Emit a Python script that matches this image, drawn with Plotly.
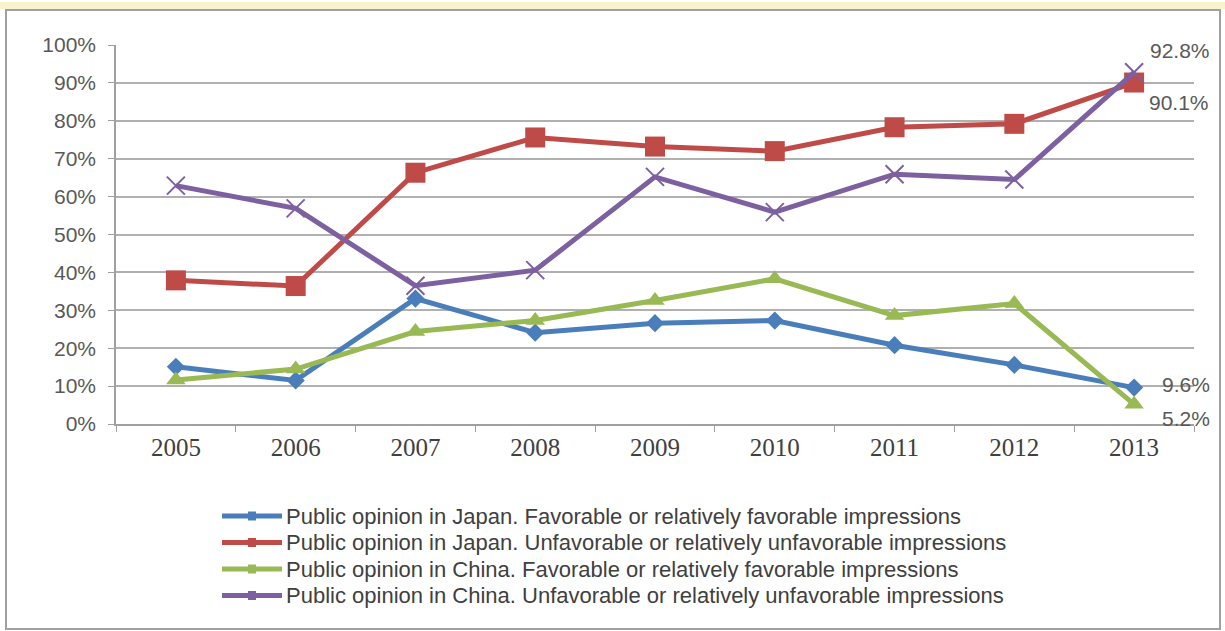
import plotly.graph_objects as go

years = ["2005", "2006", "2007", "2008", "2009", "2010", "2011", "2012", "2013"]
japan_fav = [15.1, 11.5, 33.1, 24.1, 26.6, 27.3, 20.8, 15.6, 9.6]
japan_unfav = [37.9, 36.4, 66.3, 75.6, 73.2, 72.0, 78.3, 79.2, 90.1]
china_fav = [11.6, 14.5, 24.4, 27.3, 32.6, 38.3, 28.6, 31.8, 5.2]
china_unfav = [62.9, 56.9, 36.5, 40.6, 65.2, 55.9, 65.9, 64.5, 92.8]

names = [
    "Public opinion in Japan. Favorable or relatively favorable impressions",
    "Public opinion in Japan. Unfavorable or relatively unfavorable impressions",
    "Public opinion in China. Favorable or relatively favorable impressions",
    "Public opinion in China. Unfavorable or relatively unfavorable impressions",
]
colors = ["#4a7ebb", "#be4b48", "#98b954", "#7d60a0"]
symbols = ["diamond", "square", "triangle-up", "x-thin"]
sizes = [14, 20, 17, 18]
series = [japan_fav, japan_unfav, china_fav, china_unfav]

W, H = 1225, 631
ML, MR, MT, MB = 116, 31, 45, 207
PW, PH = W - ML - MR, H - MT - MB


def px_x(x):
    return (x - ML) / PW


def px_y(y):
    return (H - MB - y) / PH


fig = go.Figure()
for name, vals, c, s, sz in zip(names, series, colors, symbols, sizes):
    marker = dict(symbol=s, size=sz, color=c)
    if s == "x-thin":
        marker["line"] = dict(color=c, width=2)
    fig.add_trace(go.Scatter(
        x=years, y=vals, name=name, mode="lines+markers",
        line=dict(color=c, width=5), marker=marker, showlegend=False,
    ))

# value labels at the last year
label_font = dict(family="Arial, Liberation Sans, sans-serif", size=21, color="#595959")
last_x = (len(years) - 0.5) / len(years)
ann = [
    (china_unfav[-1], 14, 22),
    (japan_unfav[-1], 13, -20),
    (japan_fav[-1], 26, 3),
    (china_fav[-1], 26, -14),
]
for v, xs, ys in ann:
    fig.add_annotation(x=last_x, y=v, xref="paper", yref="y", text=f"{v:.1f}%",
                       showarrow=False, xanchor="left", yanchor="middle",
                       xshift=xs, yshift=ys, font=label_font)

# legend (drawn manually to match spacing)
legend_rows = [516, 542.5, 569, 595.5]
for name, c, ry in zip(names, colors, legend_rows):
    fig.add_shape(type="line", xref="paper", yref="paper",
                  x0=px_x(222), x1=px_x(282), y0=px_y(ry), y1=px_y(ry),
                  line=dict(color=c, width=5))
    fig.add_shape(type="line", xref="paper", yref="paper",
                  x0=px_x(248), x1=px_x(256), y0=px_y(ry), y1=px_y(ry),
                  line=dict(color=c, width=9))
    fig.add_annotation(x=px_x(284), y=px_y(ry), xref="paper", yref="paper",
                       text=name, showarrow=False, xanchor="left", yanchor="middle",
                       font=dict(family="Arial, Liberation Sans, sans-serif", size=22,
                                 color="#404040"))

# outer frame
fig.add_shape(type="rect", xref="paper", yref="paper",
              x0=px_x(6), x1=px_x(1220), y0=px_y(629), y1=px_y(10),
              line=dict(color="#a0a0a0", width=2), fillcolor="rgba(0,0,0,0)", layer="below")
fig.add_shape(type="rect", xref="paper", yref="paper",
              x0=px_x(0), x1=px_x(W), y0=px_y(9), y1=px_y(2),
              line=dict(width=0), fillcolor="#f8f2cf", layer="below")

fig.update_layout(
    width=W, height=H,
    margin=dict(l=ML, r=MR, t=MT, b=MB),
    paper_bgcolor="white", plot_bgcolor="white",
    showlegend=False,
    xaxis=dict(
        type="category", range=[-0.5, 8.5],
        showline=True, linecolor="#a0a0a0", linewidth=1.5,
        ticks="outside", tickson="boundaries", ticklen=6, tickcolor="#a0a0a0",
        tickfont=dict(family="Liberation Serif, Times New Roman, serif", size=25, color="#404040"),
        showgrid=False, zeroline=False,
    ),
    yaxis=dict(
        range=[0, 100], dtick=10, ticksuffix="%",
        showline=True, linecolor="#a0a0a0", linewidth=1.5,
        ticks="outside", ticklen=6, tickcolor="#a0a0a0", ticklabelstandoff=8,
        tickfont=dict(family="Arial, Liberation Sans, sans-serif", size=21, color="#595959"),
        showgrid=True, gridcolor="#b0b0b0", gridwidth=1.5, zeroline=False,
    ),
)

fig.write_html("out.html")
